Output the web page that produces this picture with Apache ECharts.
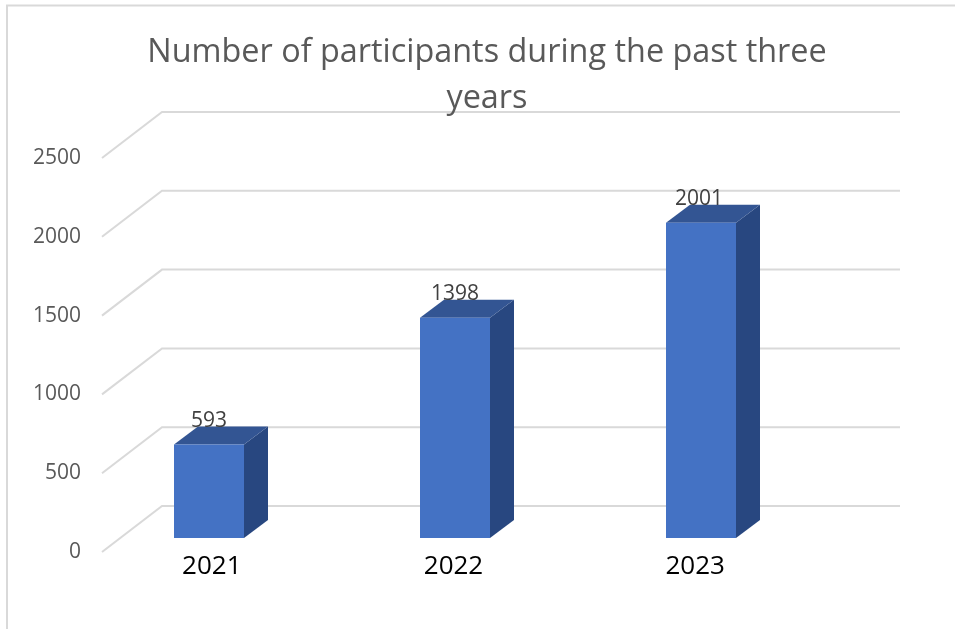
<!DOCTYPE html>
<html>
<head>
<meta charset="utf-8">
<style>html,body{margin:0;padding:0;background:#fff}#c{width:955px;height:629px}</style>
<script src="https://cdn.jsdelivr.net/npm/echarts@6/dist/echarts.min.js"></script>
</head>
<body>
<div id="c"></div>
<script>
const titleText = 'Number of participants during the past three\nyears';
const categories = ['2021', '2022', '2023'];
const participants = [593, 1398, 2001];
const yTicks = [0, 500, 1000, 1500, 2000, 2500];

const FONT = '"Open Sans", sans-serif';
const WALL_DX = 60, WALL_DY = -46, WALL_W = 738, FRONT_INSET = 11;
const BAR_DX = 24, BAR_DY = -18, BAR_RATIO = 70 / 246;
const LABEL_NUDGE_X = [0, 0, -2];

const chart = echarts.init(document.getElementById('c'), null, { renderer: 'canvas' });

function renderWall(params, api) {
  const y = api.coord([0, api.value(1)])[1];
  const x0 = params.coordSys.x + FRONT_INSET;
  const bx = x0 + WALL_DX, by = y + WALL_DY;
  return {
    type: 'polyline',
    shape: { points: [[x0, y], [bx, by], [bx + WALL_W, by]] },
    style: { stroke: '#d9d9d9', lineWidth: 2, fill: 'none' },
    silent: true
  };
}

function renderBar(params, api) {
  const i = api.value(0), v = api.value(1);
  const top = api.coord([i, v]), base = api.coord([i, 0]);
  const w = api.size([1, 0])[0] * BAR_RATIO;
  const l = top[0] - w / 2, r = top[0] + w / 2, t = top[1], b = base[1];
  return {
    type: 'group',
    silent: true,
    children: [
      { type: 'polygon', shape: { points: [[r, t], [r + BAR_DX, t + BAR_DY], [r + BAR_DX, b + BAR_DY], [r, b]] }, style: { fill: '#284780' } },
      { type: 'polygon', shape: { points: [[l, t], [l + BAR_DX, t + BAR_DY], [r + BAR_DX, t + BAR_DY], [r, t]] }, style: { fill: '#335593' } },
      { type: 'rect', shape: { x: l, y: t, width: w, height: b - t }, style: { fill: '#4472c4' } },
      { type: 'text', style: { x: top[0] + LABEL_NUDGE_X[i], y: t - 24, text: String(v), align: 'center', verticalAlign: 'middle', fill: '#404040', font: '21px ' + FONT } }
    ]
  };
}

chart.setOption({
  animation: false,
  backgroundColor: '#fff',
  title: {
    text: titleText,
    left: 482,
    top: 25,
    textAlign: 'center',
    textStyle: { fontFamily: FONT, fontSize: 32.4, fontWeight: 'normal', color: '#595959', lineHeight: 46 }
  },
  graphic: [{
    type: 'polyline',
    shape: { points: [[7, 629], [7, 5.5], [955, 5.5]] },
    style: { stroke: '#d9d9d9', lineWidth: 2, fill: 'none' },
    silent: true
  }],
  grid: [
    { left: 91, width: 725, top: 158, height: 394 },
    { left: 86, width: 738, top: 144, height: 394 }
  ],
  xAxis: [
    {
      gridIndex: 0, type: 'category', data: categories,
      axisLine: { show: false }, axisTick: { show: false },
      axisLabel: { show: true, color: '#000', fontFamily: FONT, fontSize: 26, margin: 2 }
    },
    { gridIndex: 1, type: 'category', data: categories, show: false }
  ],
  yAxis: [
    {
      gridIndex: 0, type: 'value', min: 0, max: 2500, interval: 500,
      axisLine: { show: false }, axisTick: { show: false }, splitLine: { show: false },
      axisLabel: { color: '#595959', fontFamily: FONT, fontSize: 21, margin: 10, padding: [6, 0, 0, 0], formatter: v => String(v) }
    },
    { gridIndex: 1, type: 'value', min: 0, max: 2500, interval: 500, show: false, splitLine: { show: false } }
  ],
  series: [
    {
      type: 'custom', xAxisIndex: 0, yAxisIndex: 0, z: 1,
      renderItem: renderWall,
      data: yTicks.map(t => [0, t]),
      encode: { x: 0, y: 1 }
    },
    {
      type: 'custom', xAxisIndex: 1, yAxisIndex: 1, z: 2,
      renderItem: renderBar,
      data: participants.map((v, i) => [i, v]),
      encode: { x: 0, y: 1 }
    }
  ]
});
</script>
</body>
</html>
